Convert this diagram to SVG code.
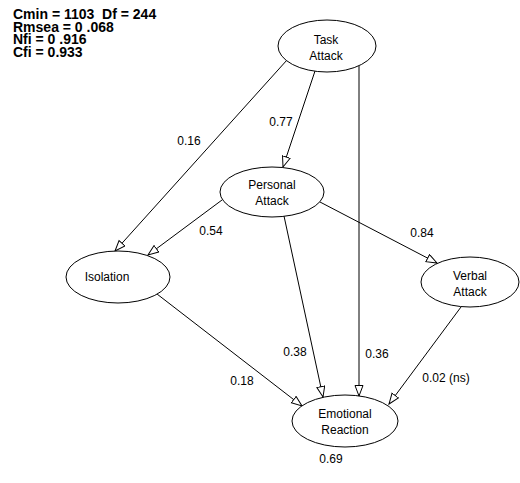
<svg xmlns="http://www.w3.org/2000/svg" width="520" height="483" viewBox="0 0 520 483">
<style>
.node ellipse{fill:#fff;stroke:#000;stroke-width:1}
.node text{font-family:"Liberation Sans",Arial,sans-serif;font-size:12px;fill:#000;text-anchor:middle}
.edges line{stroke:#000;stroke-width:1;marker-end:url(#arr)}
.lbl{font-family:"Liberation Sans",Arial,sans-serif;font-size:12px;fill:#000;text-anchor:middle}
.hdr{font-family:"Liberation Sans",Arial,sans-serif;font-size:14px;font-weight:bold;fill:#000;white-space:pre}
</style>
<defs>
<marker id="arr" markerUnits="userSpaceOnUse" markerWidth="13" markerHeight="10" refX="11" refY="4.5" orient="auto">
<path d="M0.5,0.5 L11,4.5 L0.5,8.5 z" fill="#fff" stroke="#000" stroke-width="1"/>
</marker>
</defs>
<rect width="520" height="483" fill="#fff"/>
<g id="header">
<text class="hdr" x="13" y="19" xml:space="preserve">Cmin = 1103  Df = 244</text>
<text class="hdr" x="13" y="31.5">Rmsea = 0 .068</text>
<text class="hdr" x="13" y="44">Nfi = 0 .916</text>
<text class="hdr" x="13" y="56.5">Cfi = 0.933</text>
</g>
<g id="edges" class="edges">
<line x1="287" y1="60" x2="115" y2="251"/>
<line x1="315" y1="71" x2="283" y2="167"/>
<line x1="359" y1="66" x2="359" y2="396"/>
<line x1="222" y1="200" x2="148" y2="255"/>
<line x1="284" y1="216" x2="323" y2="397"/>
<line x1="320" y1="202" x2="437" y2="263"/>
<line x1="157" y1="294" x2="302" y2="406"/>
<line x1="461" y1="307" x2="389" y2="404"/>
</g>
<g id="labels">
<text class="lbl" x="189" y="145">0.16</text>
<text class="lbl" x="281" y="126">0.77</text>
<text class="lbl" x="211" y="235">0.54</text>
<text class="lbl" x="422" y="237">0.84</text>
<text class="lbl" x="295" y="356">0.38</text>
<text class="lbl" x="377" y="358">0.36</text>
<text class="lbl" x="242" y="385">0.18</text>
<text class="lbl" x="446" y="382">0.02 (ns)</text>
<text class="lbl" x="331" y="463">0.69</text>
</g>
<g id="task" class="node">
<ellipse cx="327" cy="46" rx="49" ry="26"/>
<text x="326" y="44">Task</text>
<text x="326" y="60">Attack</text>
</g>
<g id="personal" class="node">
<ellipse cx="272" cy="192" rx="52" ry="25"/>
<text x="272" y="189">Personal</text>
<text x="272" y="205">Attack</text>
</g>
<g id="isolation" class="node">
<ellipse cx="118" cy="277" rx="52" ry="26"/>
<text x="107" y="281">Isolation</text>
</g>
<g id="verbal" class="node">
<ellipse cx="470" cy="282" rx="49" ry="25"/>
<text x="470" y="280">Verbal</text>
<text x="470" y="296">Attack</text>
</g>
<g id="emotional" class="node">
<ellipse cx="345" cy="421" rx="53" ry="26"/>
<text x="345" y="418">Emotional</text>
<text x="345" y="434">Reaction</text>
</g>
</svg>
